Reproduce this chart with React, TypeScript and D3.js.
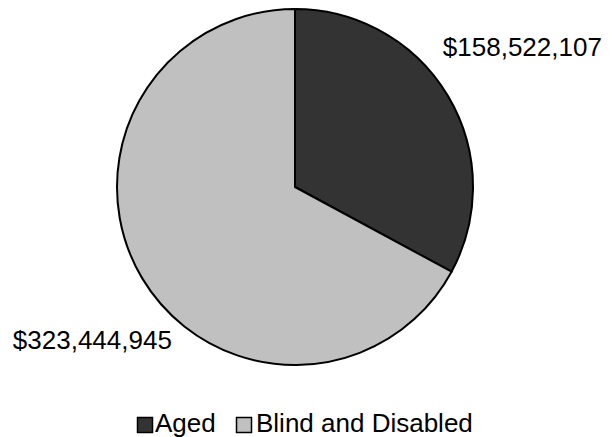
import React from "react";
import { pie, arc, PieArcDatum } from "d3";

// Spending by category (dollars)
const categories = ["Aged", "Blind and Disabled"];
const amounts = [158522107, 323444945];
const sliceColors = ["#333333", "#C0C0C0"];

const W = 612;
const H = 437;
const cx = 295;
const cy = 187;
const radius = 178;

const fmt = (v: number) => "$" + v.toLocaleString("en-US");

type Row = { name: string; value: number; color: string };
const rows: Row[] = categories.map((name, i) => ({
  name,
  value: amounts[i],
  color: sliceColors[i],
}));

export default function App() {
  const slices = pie<Row>()
    .value((d) => d.value)
    .sort(null)(rows);

  const arcGen = arc<PieArcDatum<Row>>().innerRadius(0).outerRadius(radius);

  // label distance from centre (multiple of radius) plus a small nudge
  const labelFactor = [1.5, 1.43];
  const labelNudge = [
    [-2, -3],
    [16, 23],
  ];
  const labelPos = (d: PieArcDatum<Row>, i: number) => {
    const mid = (d.startAngle + d.endAngle) / 2;
    const r = radius * labelFactor[i];
    return [
      Math.sin(mid) * r + labelNudge[i][0],
      -Math.cos(mid) * r + labelNudge[i][1],
    ];
  };

  const font = "'Liberation Sans', Arial, sans-serif";
  const fontSize = 26;

  return (
    <svg
      width={W}
      height={H}
      style={{ position: "fixed", left: 0, top: 0, background: "#fff" }}
      fontFamily={font}
    >
      <g transform={`translate(${cx},${cy})`}>
        {slices.map((d, i) => (
          <path
            key={i}
            d={arcGen(d) ?? ""}
            fill={d.data.color}
            stroke="#000"
            strokeWidth={2}
            strokeLinejoin="round"
          />
        ))}
        {slices.map((d, i) => {
          const [x, y] = labelPos(d, i);
          return (
            <text
              key={`l-${i}`}
              x={x}
              y={y}
              textAnchor="middle"
              dominantBaseline="central"
              fontSize={fontSize}
              fill="#000"
            >
              {fmt(d.data.value)}
            </text>
          );
        })}
      </g>

      {/* Legend */}
      <g transform="translate(137,417)">
        {rows.map((d, i) => {
          const x = i === 0 ? 0 : 99;
          const tx = i === 0 ? 18 : 20;
          return (
            <g key={i} transform={`translate(${x},0)`}>
              <rect
                x={0.5}
                y={0.5}
                width={15}
                height={15}
                fill={d.color}
                stroke="#000"
                strokeWidth={1.5}
              />
              <text x={tx} y={15} fontSize={fontSize} fill="#000">
                {d.name}
              </text>
            </g>
          );
        })}
      </g>
    </svg>
  );
}
